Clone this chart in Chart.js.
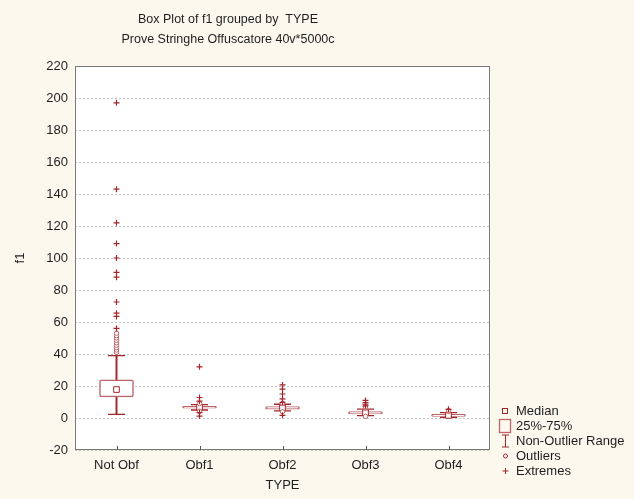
<!doctype html>
<html>

<head>
	<title>Box Plot of f1 grouped by TYPE</title>
	<script src="https://cdn.jsdelivr.net/npm/chart.js@4/dist/chart.umd.min.js"></script>
	<style>
		html, body {
			margin: 0;
			padding: 0;
			background: #fcf8ee;
		}
		#wrap {
			width: 634px;
			height: 499px;
		}
	</style>
</head>

<body>
	<div id="wrap">
		<canvas id="canvas"></canvas>
	</div>
	<script>
		const categories = ['Not Obf', 'Obf1', 'Obf2', 'Obf3', 'Obf4'];
		const whiskerLow = [2.3, 5.0, 4.5, 1.5, 0.4];
		const q1 = [13.2, 6.1, 5.5, 2.5, 1.0];
		const median = [17.8, 6.7, 6.3, 3.3, 1.6];
		const q3 = [23.9, 7.3, 7.1, 4.0, 2.3];
		const whiskerHigh = [39.0, 8.3, 8.6, 5.6, 3.4];
		const outliers = [
			[41, 42.5, 44, 45.5, 47, 48.5, 50, 51.5, 53],
			[4.2, 9.0],
			[3.9, 9.2],
			[6.3, 6.9, 1.0],
			[4.1, 4.7]
		];
		const extremes = [
			[56, 63.5, 65.5, 72.5, 88, 91, 100, 109, 122, 143, 197],
			[32, 12.8, 10.5, 3.3, 1.2],
			[20.7, 18, 15, 12, 9.8, 1.7],
			[11, 9.6, 8.6, 7.6],
			[5.4]
		];
		const yTicks = { min: -20, max: 220, step: 20 };
		const titleLines = ['Box Plot of f1 grouped by  TYPE', 'Prove Stringhe Offuscatore 40v*5000c'];
		const legendLabels = ['Median', '25%-75%', 'Non-Outlier Range', 'Outliers', 'Extremes'];

		const FONT = "'Liberation Sans', Arial, sans-serif";
		const RED = '#a3262b';
		const BOXRED = '#bd6468';

		const toPoints = (lists) => {
			const pts = [];
			lists.forEach((list, i) => list.forEach((v) => pts.push({x: categories[i], y: v})));
			return pts;
		};
		const capPoints = [];
		categories.forEach((c, i) => {
			capPoints.push({x: c, y: whiskerLow[i]});
			capPoints.push({x: c, y: whiskerHigh[i]});
		});

		// white plot area, grey frame, small inward ticks on the x axis
		const framePlugin = {
			id: 'frame',
			beforeDraw(chart) {
				const {ctx, chartArea: a} = chart;
				ctx.save();
				ctx.fillStyle = '#ffffff';
				ctx.fillRect(a.left, a.top, a.right - a.left, a.bottom - a.top);
				ctx.restore();
			},
			afterDatasetsDraw(chart) {
				const {ctx, chartArea: a} = chart;
				const xs = chart.scales.x;
				ctx.save();
				ctx.strokeStyle = '#7a7a7a';
				ctx.lineWidth = 1;
				ctx.strokeRect(a.left + 0.5, a.top + 0.5, a.right - a.left - 1, a.bottom - a.top - 1);
				ctx.strokeStyle = '#555';
				categories.forEach((c, i) => {
					const px = Math.round(xs.getPixelForValue(i)) + 0.5;
					ctx.beginPath();
					ctx.moveTo(px, a.bottom);
					ctx.lineTo(px, a.bottom - 4);
					ctx.stroke();
				});
				ctx.restore();
			}
		};

		// two line title, Statistica style
		const titlePlugin = {
			id: 'titles',
			afterDraw(chart) {
				const ctx = chart.ctx;
				ctx.save();
				ctx.fillStyle = '#1e1e1e';
				ctx.font = '12.5px ' + FONT;
				ctx.textAlign = 'center';
				ctx.textBaseline = 'middle';
				ctx.fillText(titleLines[0], 228, 20);
				ctx.fillText(titleLines[1], 228, 40);
				ctx.restore();
			}
		};

		const legendPlugin = {
			id: 'boxLegend',
			afterDraw(chart) {
				const ctx = chart.ctx;
				const sx = 505, tx = 516, y0 = 411, step = 15;
				ctx.save();
				ctx.font = '13px ' + FONT;
				ctx.textBaseline = 'middle';
				ctx.fillStyle = '#1e1e1e';
				legendLabels.forEach((t, i) => ctx.fillText(t, tx, y0 + i * step));
				ctx.lineWidth = 1;
				// median
				ctx.strokeStyle = RED;
				ctx.strokeRect(sx - 2.5, y0 - 2.5, 5, 5);
				// box
				ctx.strokeStyle = BOXRED;
				ctx.lineWidth = 1.3;
				ctx.strokeRect(sx - 5.5, y0 + step - 6.5, 11, 13);
				// whisker
				ctx.strokeStyle = RED;
				ctx.lineWidth = 1;
				let y = y0 + 2 * step;
				ctx.beginPath();
				ctx.moveTo(sx + 0.5, y - 6);
				ctx.lineTo(sx + 0.5, y + 6);
				ctx.moveTo(sx - 3, y - 6);
				ctx.lineTo(sx + 4, y - 6);
				ctx.moveTo(sx - 3, y + 6);
				ctx.lineTo(sx + 4, y + 6);
				ctx.stroke();
				// outlier
				y = y0 + 3 * step;
				ctx.beginPath();
				ctx.arc(sx + 0.5, y, 2, 0, Math.PI * 2);
				ctx.stroke();
				// extreme
				y = y0 + 4 * step;
				ctx.beginPath();
				ctx.moveTo(sx - 2.5, y);
				ctx.lineTo(sx + 3.5, y);
				ctx.moveTo(sx + 0.5, y - 3);
				ctx.lineTo(sx + 0.5, y + 3);
				ctx.stroke();
				ctx.restore();
			}
		};

		const ctx = document.getElementById('canvas').getContext('2d');
		window.myChart = new Chart(ctx, {
			type: 'bar',
			data: {
				labels: categories,
				datasets: [{
					label: 'Extremes',
					type: 'line',
					showLine: false,
					data: toPoints(extremes),
					pointStyle: 'cross',
					pointRadius: 3,
					pointBorderColor: RED,
					pointBorderWidth: 1.2,
					order: 0
				}, {
					label: 'Outliers',
					type: 'line',
					showLine: false,
					data: toPoints(outliers),
					pointStyle: 'circle',
					pointRadius: 2.2,
					pointBackgroundColor: '#ffffff',
					pointBorderColor: BOXRED,
					pointBorderWidth: 1,
					order: 1
				}, {
					label: 'Median',
					type: 'line',
					showLine: false,
					data: categories.map((c, i) => ({x: c, y: median[i]})),
					pointStyle: 'rect',
					pointRadius: 4,
					pointBackgroundColor: '#ffffff',
					pointBorderColor: RED,
					pointBorderWidth: 1,
					order: 2
				}, {
					label: 'Caps',
					type: 'line',
					showLine: false,
					data: capPoints,
					pointStyle: 'line',
					pointRadius: 8.5,
					pointBorderColor: RED,
					pointBorderWidth: 1.3,
					order: 3
				}, {
					label: '25%-75%',
					data: categories.map((c, i) => [q1[i], q3[i]]),
					backgroundColor: '#ffffff',
					borderColor: BOXRED,
					borderWidth: 1.5,
					borderSkipped: false,
					borderRadius: 2,
					barThickness: 34,
					grouped: false,
					order: 4
				}, {
					label: 'Non-Outlier Range',
					data: categories.map((c, i) => [whiskerLow[i], whiskerHigh[i]]),
					backgroundColor: RED,
					borderWidth: 0,
					barThickness: 1.3,
					grouped: false,
					order: 5
				}]
			},
			options: {
				responsive: true,
				maintainAspectRatio: false,
				animation: false,
				events: [],
				layout: {
					padding: {top: 66, right: 144, bottom: 0, left: 0}
				},
				plugins: {
					legend: {display: false},
					title: {display: false},
					tooltip: {enabled: false}
				},
				scales: {
					x: {
						type: 'category',
						grid: {display: false},
						border: {display: false},
						ticks: {
							color: '#1e1e1e',
							font: {family: FONT, size: 13},
							padding: 0,
							maxRotation: 0
						},
						title: {
							display: true,
							text: 'TYPE',
							color: '#1e1e1e',
							font: {family: FONT, size: 13},
							padding: {top: 2, bottom: 6}
						},
						afterFit(scale) {
							scale.height = 49;
						}
					},
					y: {
						min: yTicks.min,
						max: yTicks.max,
						grid: {
							color: '#c4c4c4',
							lineWidth: 1,
							drawTicks: false
						},
						border: {display: false, dash: [2, 2]},
						ticks: {
							stepSize: yTicks.step,
							color: '#1e1e1e',
							font: {family: FONT, size: 13},
							padding: 7
						},
						title: {
							display: true,
							text: 'f1',
							color: '#1e1e1e',
							font: {family: FONT, size: 13},
							padding: {top: 13, bottom: 0}
						},
						afterFit(scale) {
							scale.width = 75;
						}
					}
				}
			},
			plugins: [framePlugin, titlePlugin, legendPlugin]
		});
	</script>
</body>

</html>
